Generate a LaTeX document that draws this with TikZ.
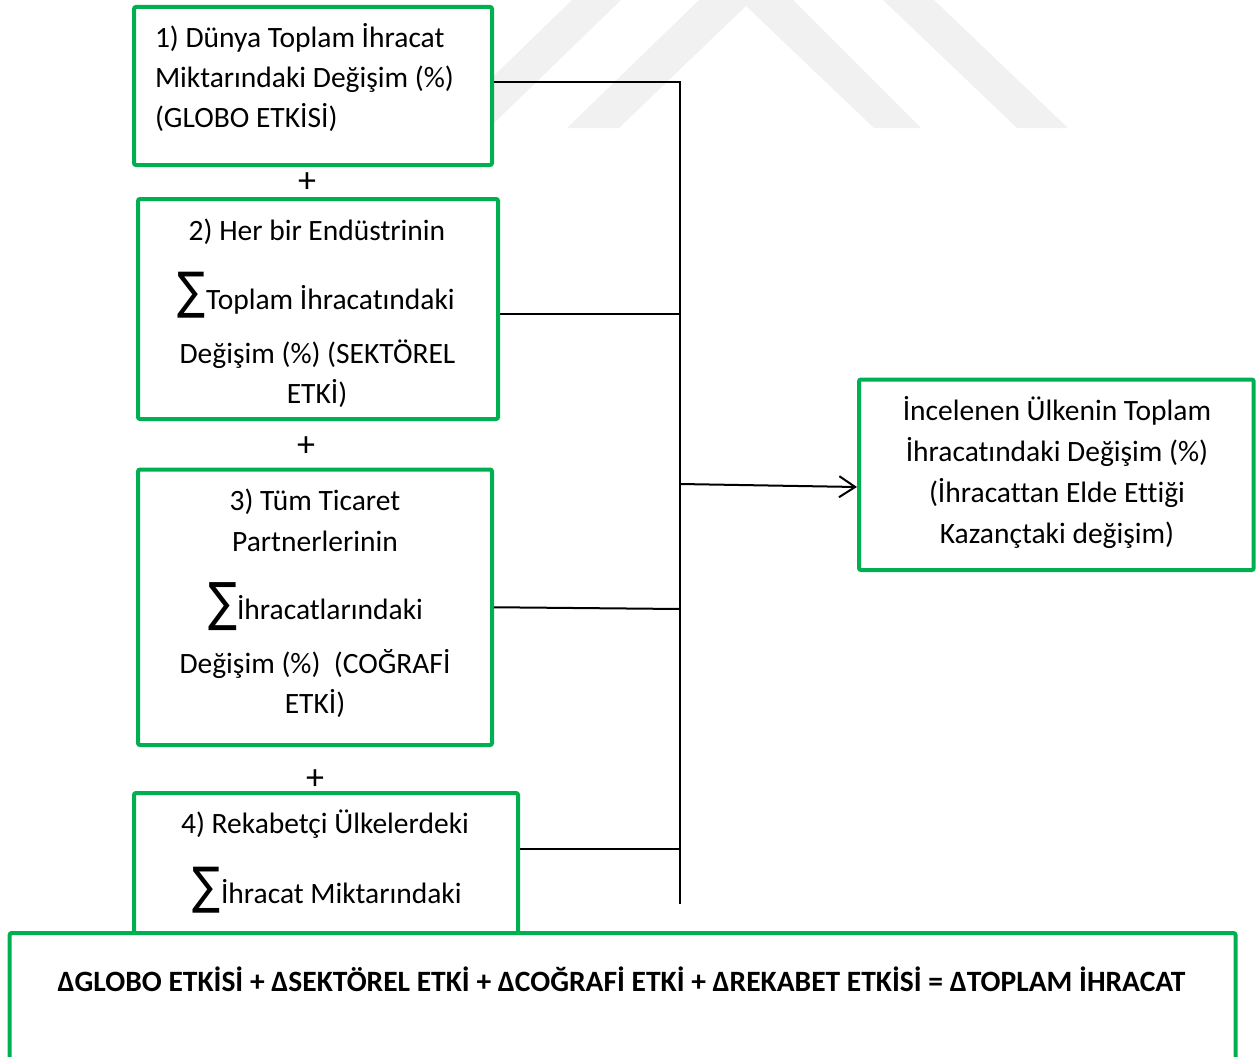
\documentclass[tikz,border=0pt]{standalone}
\usepackage{fontspec}
\setmainfont{Carlito}[Ligatures=NoCommon]
\newfontfamily\symfont{DejaVu Sans}
\usetikzlibrary{arrows.meta}
\definecolor{boxgreen}{HTML}{00B050}
\definecolor{wmgray}{HTML}{F1F1F1}
\newcommand{\bigsig}[2]{\resizebox*{#1}{#2}{\symfont ∑}}
\begin{document}
\begin{tikzpicture}[x=1pt,y=-1pt,
  box/.style={draw=boxgreen,line width=4pt,fill=white,rounded corners=2pt,inner sep=0pt},
  txt/.style={inner sep=0pt,outer sep=0pt,anchor=base,font=\fontsize{29.5pt}{35pt}\selectfont},
  txtl/.style={txt,anchor=base west},
  plus/.style={inner sep=0pt,anchor=center,font=\fontsize{36pt}{40pt}\selectfont},
  sig/.style={inner sep=0pt,outer sep=0pt,anchor=south west},
  link/.style={draw=black,line width=2pt},
  wm/.style={fill=wmgray}]
\useasboundingbox (0,0) rectangle (1256,1057);
% watermark
\fill[wm] (572,0) -- (621,0) -- (489,128) -- (440,128) -- cycle;
\fill[wm] (567,128) -- (699,0) -- (793,0) -- (921,128) -- (874,128) -- (746,6) -- (619,128) -- cycle;
\fill[wm] (883,0) -- (934,0) -- (1068,128) -- (1017,128) -- cycle;
% boxes
\node[box,minimum width=358pt,minimum height=158pt] (b1) at (313,86) {};
\node[box,minimum width=360pt,minimum height=220pt] (b2) at (318,309) {};
\node[box,minimum width=354pt,minimum height=275.5pt] (b3) at (315,607.25) {};
\node[box,minimum width=384pt,minimum height=157pt] (b4) at (326,871.5) {};
\node[box,minimum width=394.7pt,minimum height=190.5pt] (res) at (1056.35,474.75) {};
% bus coordinates
\coordinate (j1) at (680,82);
\coordinate (j2) at (680,314);
\coordinate (ja) at (680,484);
\coordinate (j3) at (680,609);
\coordinate (j4) at (680,849);
\coordinate (jend) at (680,904);
\coordinate (ae) at (0,487);
% connectors
\draw[link] (b1.east |- j1) -- (j1) -- (jend);
\draw[link] (b2.east |- j2) -- (j2);
\draw[link] (b3.east) -- (j3);
\draw[link] (b4.east |- j4) -- (j4);
\draw[link,-{Straight Barb[length=16pt,width=21pt]}] (ja) -- (res.west |- ae);
% box 1 text
\node[txtl] (t1a) at (155,48) {1) Dünya Toplam İhracat};
\node[txtl] (t1b) at (155,88) {Miktarındaki Değişim (\%)};
\node[txtl] (t1c) at (155,128) {(GLOBO ETKİSİ)};
\node[plus] (p1) at (307,183) {+};
% box 2 text
\node[txt] (t2a) at (317,240) {2) Her bir Endüstrinin};
\node[sig] (s2) at (177,318) {\bigsig{28pt}{46pt}};
\node[txtl] (t2b) at (206,309) {Toplam İhracatındaki};
\node[txt] (t2c) at (317.5,363) {Değişim (\%) (SEKTÖREL};
\node[txt] (t2d) at (317,403) {ETKİ)};
\node[plus] (p2) at (306,447) {+};
% box 3 text
\node[txt] (t3a) at (315,510) {3) Tüm Ticaret};
\node[txt] (t3b) at (315,551) {Partnerlerinin};
\node[sig] (s3) at (208,631) {\bigsig{29pt}{48pt}};
\node[txtl] (t3c) at (237,619) {İhracatlarındaki};
\node[txt] (t3d) at (315,673) {Değişim (\%)\ \ (COĞRAFİ};
\node[txt] (t3e) at (315,713) {ETKİ)};
\node[plus] (p3) at (315,780) {+};
% box 4 text
\node[txt] (t4a) at (325,833) {4) Rekabetçi Ülkelerdeki};
\node[sig] (s4) at (192,913) {\bigsig{28pt}{46pt}};
\node[txtl] (t4b) at (221,903) {İhracat Miktarındaki};
% result text
\node[txt] (r1) at (1057,420) {İncelenen Ülkenin Toplam};
\node[txt] (r2) at (1057,461) {İhracatındaki Değişim (\%)};
\node[txt] (r3) at (1057,502) {(İhracattan Elde Ettiği};
\node[txt] (r4) at (1057,543) {Kazançtaki değişim)};
% bottom equation box
\node[box,minimum width=1225.8pt,minimum height=147pt] (eq) at (622.6,1006.5) {};
\node[txt,font=\fontsize{29.5pt}{35pt}\selectfont\bfseries] (eqt) at (621.5,991) {ΔGLOBO ETKİSİ + ΔSEKTÖREL ETKİ + ΔCOĞRAFİ ETKİ + ΔREKABET ETKİSİ = ΔTOPLAM İHRACAT};
\end{tikzpicture}
\end{document}
